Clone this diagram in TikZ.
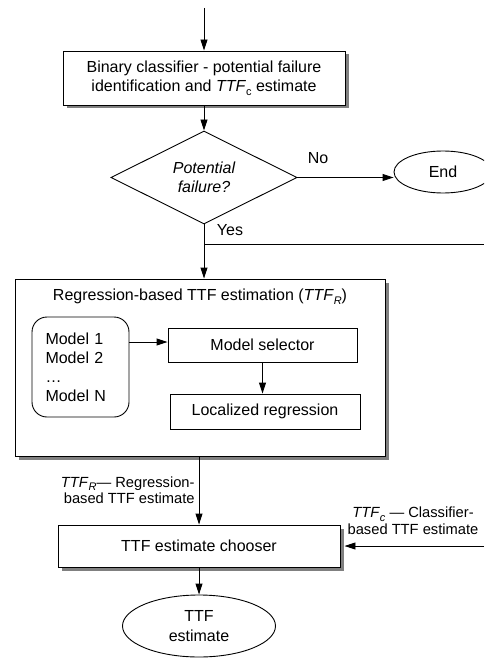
\documentclass[tikz,border=0pt]{standalone}
\usepackage{fontspec}
\setmainfont{Liberation Sans}
\usetikzlibrary{arrows.meta,shapes.geometric,shadows}

% lowered subscript used in the TTF labels
\newcommand\lsub[1]{\raisebox{-0.45ex}{\fontsize{11}{11}\selectfont #1}}

\begin{document}
\begin{tikzpicture}[x=1pt,y=-1pt,
  line width=0.9pt,
  font=\fontsize{16}{19}\selectfont,
  arr/.style={-{Triangle[length=11pt,width=7pt]}},
  shade/.style={drop shadow={shadow xshift=3.5pt,shadow yshift=-3.5pt,fill=black!50,opacity=1}},
  procbox/.style={draw,fill=white,rectangle,inner sep=0pt,align=center},
  lbl/.style={font=\fontsize{14.7}{16.5}\selectfont,inner sep=0pt},
]
\clip (0,0) rectangle (484,660);
\fill[white] (0,0) rectangle (484,660);

% main flow
\coordinate (start) at (204,8);
\node[procbox,shade,minimum width=282pt,minimum height=54pt] (bin) at (204,78)
  {Binary classifier - potential failure\\identification and \textit{TTF}\lsub{c} estimate};
\node[draw,diamond,fill=white,inner sep=0pt,minimum width=186pt,minimum height=81pt,align=center,font=\fontsize{16}{19}\selectfont\itshape] (dec) at (204,177.5)
  {Potential\\failure?};
\node[draw,ellipse,fill=white,minimum width=98pt,minimum height=42pt,inner sep=0pt] (end) at (443,172) {End};

% regression block
\node[procbox,shade,minimum width=370pt,minimum height=177pt] (reg) at (200,367.5) {};
\node[inner sep=0pt] (regtitle) at (200,297) {Regression-based TTF estimation (\textit{TTF}\lsub{\textit{R}})};
\node[draw,rounded corners=15pt,minimum width=97pt,minimum height=100pt,inner sep=0pt,text width=70pt,align=left,fill=white] (models) at (80.5,367)
  {Model 1\\Model 2\\\dots\\Model N};
\node[procbox,minimum width=189pt,minimum height=34pt] (sel) at (262.5,345) {Model selector};
\node[procbox,minimum width=190pt,minimum height=35pt] (loc) at (265,411.5) {Localized regression};

% estimate selection
\node[procbox,shade,minimum width=282pt,minimum height=42pt] (choose) at (199,546) {TTF estimate chooser};
\node[draw,ellipse,fill=white,minimum width=153pt,minimum height=62pt,inner sep=0pt,align=center,font=\fontsize{16}{20}\selectfont] (est) at (199,626) {TTF\\estimate};

\coordinate (fork) at (204,244);
\coordinate (rightA) at (484,244);
\coordinate (rightB) at (484,546);

% connectors
\draw[arr] (start) -- (bin.north);
\draw[arr] (bin.south) -- (dec.north);
\draw[arr] (dec.east) -- (dec.east -| end.west);
\node[inner sep=0pt] (no) at (318,158) {No};
\draw[arr] (dec.south) -- (dec.south |- reg.north);
\node[inner sep=0pt] (yes) at (230,230) {Yes};
\draw (fork) -- (rightA);
\draw[arr] ([yshift=3pt]models.east |- sel.west) -- ([yshift=3pt]sel.west);
\draw[arr] (sel.south) -- (sel.south |- loc.north);
\draw[arr] (choose.north |- reg.south) -- (choose.north);
\draw[arr] (rightB) -- ([xshift=4pt]choose.east);
\draw[arr] (choose.south) -- (est.north);

% connector labels
\node[lbl,align=right,anchor=east] (lblR) at (195,490)
  {\textit{TTF}\lsub{\textit{R}}— Regression-\\based TTF estimate};
\node[lbl,align=center] (lblC) at (413,520.5)
  {\textit{TTF}\lsub{\textit{c}} — Classifier-\\based TTF estimate};
\end{tikzpicture}
\end{document}
